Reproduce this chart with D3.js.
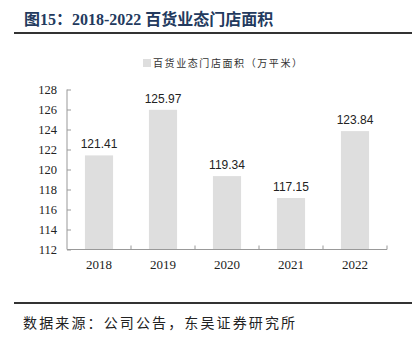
<!DOCTYPE html>
<html><head><meta charset="utf-8">
<script src="https://cdn.jsdelivr.net/npm/d3@7"></script>
<style>body{margin:0;background:#fff}svg{display:block}</style>
</head><body>
<script>
const categories = ["2018","2019","2020","2021","2022"];
const values = [121.41,125.97,119.34,117.15,123.84];
const yTicks = [112,114,116,118,120,122,124,126,128];
const title = "图15：2018-2022 百货业态门店面积";
const legendLabel = "百货业态门店面积（万平米）";
const source = "数据来源：公司公告，东吴证券研究所";

const W=419,H=346;
const svg=d3.select("body").append("svg").attr("width",W).attr("height",H);
const serif="'Liberation Serif','Times New Roman','Noto Sans CJK SC',serif";
const cjk="'Noto Sans CJK SC',sans-serif";

// title
const t=svg.append("text").attr("x",24).attr("y",25).attr("fill","#233a5e")
  .attr("font-weight","bold").attr("font-size",16);
t.append("tspan").attr("font-family",cjk).text("图");
t.append("tspan").attr("font-family",serif).text("15");
t.append("tspan").attr("font-family",cjk).text("：");
t.append("tspan").attr("font-family",serif).text("2018-2022 ");
t.append("tspan").attr("font-family",cjk).text("百货业态门店面积");

svg.append("line").attr("x1",14).attr("x2",412).attr("y1",33).attr("y2",33).attr("stroke","#333").attr("stroke-width",2);
svg.append("line").attr("x1",14).attr("x2",412).attr("y1",303).attr("y2",303).attr("stroke","#333").attr("stroke-width",2);

// legend
svg.append("rect").attr("x",143).attr("y",59).attr("width",8).attr("height",8).attr("fill","#dedede");
svg.append("text").attr("x",153).attr("y",67).attr("font-family",cjk).attr("font-size",10)
  .attr("fill","#333").attr("textLength",149).attr("lengthAdjust","spacing").text(legendLabel);

const x=d3.scaleBand().domain(categories).range([67,387]).paddingInner(0.56).paddingOuter(0.28);
const y=d3.scaleLinear().domain([112,128]).range([249.5,89.5]);

const g=svg.append("g");
g.selectAll("rect.bar").data(values).join("rect").attr("class","bar")
  .attr("x",(d,i)=>x(categories[i])).attr("width",x.bandwidth())
  .attr("y",d=>y(d)).attr("height",d=>y(112)-y(d)).attr("fill","#dedede");
g.selectAll("text.lbl").data(values).join("text").attr("class","lbl")
  .attr("x",(d,i)=>x(categories[i])+x.bandwidth()/2).attr("y",d=>y(d)-7)
  .attr("text-anchor","middle").attr("font-family","'Liberation Sans',Arial,sans-serif")
  .attr("font-size",12).attr("fill","#222").text(d=>d.toFixed(2));

// y axis
const ya=svg.append("g").attr("transform","translate(67,0)")
  .call(d3.axisRight(y).tickValues(yTicks).tickSize(4).tickFormat(d3.format("d")));
ya.select(".domain").attr("stroke","#999").attr("d","M0,89.5V249.5");
ya.selectAll(".tick line").attr("stroke","#999");
ya.selectAll(".tick text").attr("x",-10).attr("text-anchor","end")
  .attr("font-family",serif).attr("font-size",12.5).attr("fill","#222");

// x axis
const xb=d3.scaleLinear().domain([0,5]).range([67,387]);
const xa=svg.append("g").attr("transform","translate(0,249.5)");
xa.append("line").attr("x1",67).attr("x2",387).attr("stroke","#999");
xa.selectAll("line.tk").data(d3.range(1,6)).join("line").attr("class","tk")
  .attr("x1",d=>xb(d)).attr("x2",d=>xb(d)).attr("y1",0).attr("y2",-4).attr("stroke","#999");
xa.selectAll("text").data(categories).join("text")
  .attr("x",d=>x(d)+x.bandwidth()/2).attr("y",19).attr("text-anchor","middle")
  .attr("font-family",serif).attr("font-size",13).attr("fill","#222").text(d=>d);

// source
svg.append("text").attr("x",23).attr("y",328).attr("font-family",cjk).attr("font-size",14)
  .attr("fill","#222").attr("textLength",272).attr("lengthAdjust","spacing").text(source);
</script>
</body></html>
